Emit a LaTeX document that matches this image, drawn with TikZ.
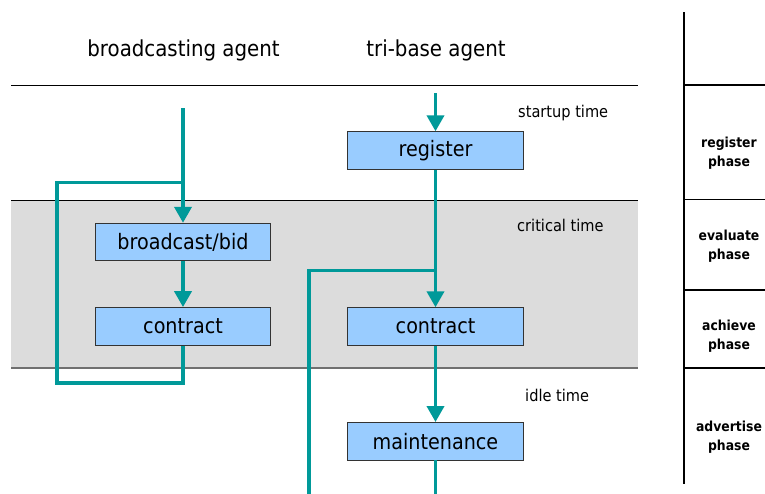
\documentclass[tikz,border=0pt]{standalone}
\usepackage{fontspec}
\setmainfont{DejaVu Sans Condensed}
\usetikzlibrary{arrows.meta}
\definecolor{flowteal}{HTML}{009999}
\definecolor{boxfill}{HTML}{99CCFF}
\definecolor{boxedge}{HTML}{333333}
\definecolor{bandfill}{HTML}{DCDCDC}
\definecolor{bandedge}{HTML}{707070}
\tikzset{
  proc/.style={draw=boxedge, line width=0.9pt, fill=boxfill, minimum width=175.5pt,
    minimum height=37.5pt, inner sep=0pt, font=\fontsize{21.3}{24}\selectfont},
  header/.style={anchor=base, inner sep=0pt, font=\fontsize{22}{26}\selectfont},
  timelabel/.style={anchor=base west, inner sep=0pt, font=\fontsize{16.2}{19}\selectfont},
  phaselabel/.style={align=center, inner sep=0pt, font=\bfseries\fontsize{13.8}{19}\selectfont},
  flow/.style={draw=flowteal, line width=3.8pt, line join=miter},
  flowarrow/.style={flow, -{Triangle[width=17pt,length=16pt]}},
}
\begin{document}
\begin{tikzpicture}[x=1pt, y=-1pt]
\useasboundingbox (0,0) rectangle (765,493);
\fill[white] (0,0) rectangle (765,493);

% time bands
\fill[bandfill] (11,200) rectangle (638,368);
\draw[black, line width=1pt] (11,85) -- (638,85);
\draw[black, line width=1pt] (11,200) -- (638,200);
\draw[bandedge, line width=1.5pt] (11,368) -- (638,368);

% phase column
\draw[black, line width=1.5pt] (684,12) -- (684,484);
\foreach \yy in {85,199.5,290,368} \draw[black, line width=1.2pt] (684,\yy) -- (765,\yy);
\node[phaselabel] (ph1) at (729,153) {register\\phase};
\node[phaselabel] (ph2) at (729,246) {evaluate\\phase};
\node[phaselabel] (ph3) at (729,336) {achieve\\phase};
\node[phaselabel] (ph4) at (729,437) {advertise\\phase};

% headers and time labels
\node[header] (hb) at (183.5,56.5) {broadcasting agent};
\node[header] (ht) at (436,56.5) {tri-base agent};
\node[timelabel] (t1) at (518,117) {startup time};
\node[timelabel] (t2) at (517,231) {critical time};
\node[timelabel] (t3) at (525,401) {idle time};

% process boxes
\node[proc] (bid) at (183,242) {broadcast/bid};
\node[proc] (lc)  at (183,326.3) {contract};
\node[proc] (reg) at (435.5,150.5) {register};
\node[proc] (rc)  at (435.5,326.5) {contract};
\node[proc] (mt)  at (435.5,441.2) {maintenance};

% broadcasting agent flow
\coordinate (ls)  at (183,108.3);
\coordinate (lj)  at (183,182.5);
\coordinate (ltl) at (57.3,182.5);
\coordinate (lbl) at (57.3,383.3);
\coordinate (lbr) at (183,383.3);
\draw[flowarrow] (ls) -- (bid.north);
\draw[flowarrow] (bid.south) -- (lc.north);
\draw[flow] (lc.south) -- (lbr) -- (lbl) -- (ltl) -- (lj);

% tri-base agent flow
\coordinate (rs)   at (435.5,93.3);
\coordinate (rj)   at (435.5,270.5);
\coordinate (rjl)  at (309.3,270.5);
\coordinate (rend) at (309.3,495);
\coordinate (mend) at (435.5,495);
\draw[flowarrow] (rs) -- (reg.north);
\draw[flowarrow] (reg.south) -- (rc.north);
\draw[flow] (rj) -- (rjl) -- (rend);
\draw[flowarrow] (rc.south) -- (mt.north);
\draw[flow] (mt.south) -- (mend);
\end{tikzpicture}
\end{document}
